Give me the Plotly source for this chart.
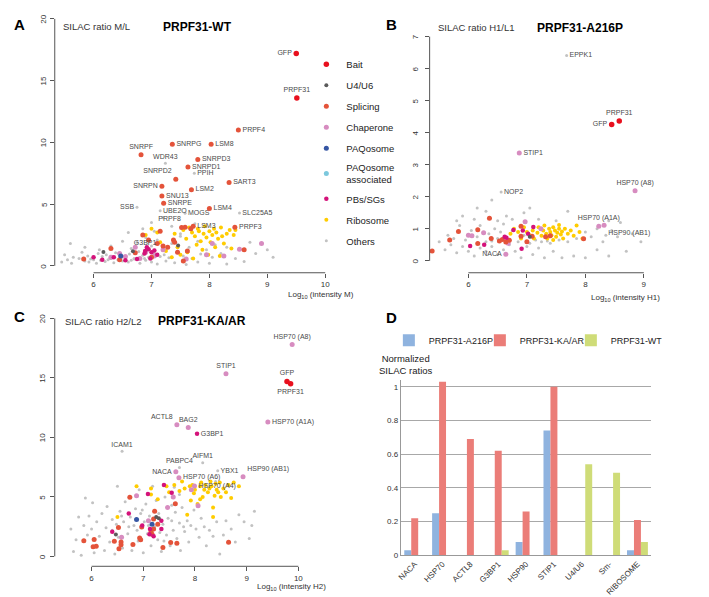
import plotly.graph_objects as go

W, H = 709, 597
FONT = "Liberation Sans, Arial, Helvetica, sans-serif"

CATS = ["Bait", "U4/U6", "Splicing", "Chaperone", "PAQosome",
        "PAQosome associated", "PBs/SGs", "Ribosome", "Others"]
LEGEND_NAMES = {"PAQosome associated": "PAQosome<br>associated"}
COLORS = {"Bait": "#e8101e", "U4/U6": "#5a5a5a", "Splicing": "#e4533a",
          "Chaperone": "#d78cc0", "PAQosome": "#3656a3",
          "PAQosome associated": "#7cc8dd", "PBs/SGs": "#d4127a",
          "Ribosome": "#ffcc00", "Others": "#c2c2c2"}
SIZES = {"Bait": 5.5, "U4/U6": 4, "Splicing": 5, "Chaperone": 5, "PAQosome": 5,
         "PAQosome associated": 5, "PBs/SGs": 4.5, "Ribosome": 4, "Others": 3}

# ---------------- Panel A (PRPF31-WT, SILAC M/L) ----------------
A_named = [
    ("GFP", "Bait", 9.50, 17.2), ("PRPF31", "Bait", 9.51, 13.6),
    ("PRPF4", "Splicing", 8.50, 11.0), ("SNRPG", "Splicing", 7.36, 9.85),
    ("LSM8", "Splicing", 8.03, 9.85), ("SNRPF", "Splicing", 6.82, 9.0),
    ("WDR43", "Others", 7.24, 8.3), ("SNRPD3", "Splicing", 7.80, 8.62),
    ("SNRPD1", "Splicing", 7.63, 8.0), ("PPIH", "Others", 7.74, 7.5),
    ("SNRPD2", "Splicing", 7.42, 7.02), ("SART3", "Splicing", 8.34, 6.75),
    ("SNRPN", "Splicing", 7.18, 6.45), ("LSM2", "Splicing", 7.69, 6.17),
    ("SNU13", "Splicing", 7.18, 5.65), ("SNRPE", "Splicing", 7.21, 5.06),
    ("SSB", "Others", 6.75, 4.75), ("LSM4", "Splicing", 8.00, 4.64),
    ("UBE2O", "Others", 7.15, 4.46), ("MOGS", "Others", 7.58, 4.25),
    ("SLC25A5", "Others", 8.52, 4.27), ("PRPF8", "Splicing", 7.58, 3.13),
    ("LSM3", "Splicing", 7.72, 3.2), ("PRPF3", "Splicing", 8.44, 3.13),
    ("G3BP1", "PBs/SGs", 6.89, 1.2),
]
A_others = [
    (5.45, 0.3), (5.55, 0.5), (5.62, 0.2), (5.75, 0.6), (5.85, 0.4), (5.92, 0.3), (6.0, 0.5),
    (6.05, 0.2), (6.12, 0.45), (6.2, 0.35), (6.28, 0.6), (6.35, 0.25), (6.42, 0.5), (6.5, 0.4),
    (6.6, 0.3), (6.7, 0.55), (6.8, 0.2), (6.9, 0.45), (7.0, 0.3), (7.1, 0.15), (7.25, 0.4),
    (7.4, 0.25), (7.6, 0.1), (7.8, 0.3), (8.0, 0.2), (8.3, 0.15), (8.6, 0.35),
    (5.5, 0.9), (5.65, 0.7), (5.8, 1.1), (5.9, 0.8), (6.0, 0.65), (6.08, 1.0), (6.15, 0.75),
    (6.22, 0.9), (6.3, 0.6), (6.38, 1.05), (6.45, 0.8), (6.55, 0.7), (6.62, 0.95), (6.7, 0.6),
    (6.78, 1.15), (6.85, 0.85), (6.95, 0.7), (7.05, 1.0), (7.15, 0.75), (7.22, 0.9), (7.3, 0.65),
    (7.45, 1.1), (7.55, 0.8), (7.7, 0.6), (7.85, 0.95), (8.05, 0.7), (8.2, 1.0), (8.45, 0.6),
    (8.8, 1.0), (9.1, 0.7), (5.95, 0.55), (6.25, 0.5), (6.48, 0.65), (6.65, 0.45), (6.88, 0.6),
    (5.6, 1.8), (5.85, 1.5), (6.1, 1.3), (6.3, 1.6), (6.5, 2.0), (6.65, 1.4), (6.75, 1.9),
    (6.9, 2.3), (7.0, 1.6), (7.1, 2.1), (7.2, 1.4), (7.35, 1.8), (7.5, 2.4), (7.65, 1.5),
    (7.8, 2.0), (7.95, 1.3), (8.1, 1.7), (8.3, 1.5), (8.7, 1.9), (9.0, 1.3),
    (6.6, 2.7), (6.85, 3.0), (7.0, 3.5), (7.05, 2.8), (7.2, 3.9), (7.35, 3.2), (7.5, 2.6), (7.75, 3.4),
]
A_ribosome = [
    (7.25, 1.2), (7.35, 0.7), (7.4, 2.6), (7.45, 1.5), (7.5, 0.9), (7.55, 2.9), (7.6, 2.2),
    (7.62, 1.1), (7.65, 3.1), (7.7, 2.7), (7.72, 0.6), (7.75, 2.4), (7.78, 1.7), (7.8, 3.0),
    (7.82, 2.8), (7.85, 2.0), (7.88, 1.3), (7.9, 2.6), (7.92, 3.2), (7.95, 2.3), (7.98, 0.9),
    (8.0, 2.8), (8.02, 1.9), (8.05, 2.5), (8.08, 3.0), (8.1, 1.5), (8.12, 2.7), (8.15, 2.2),
    (8.18, 0.8), (8.2, 3.1), (8.22, 2.4), (8.25, 1.8), (8.3, 2.6), (8.35, 2.9), (8.38, 1.4),
    (8.42, 2.5), (8.45, 2.9), (7.1, 2.7), (7.15, 1.9), (6.9, 2.5), (7.0, 3.0),
]
A_splicing = [
    (5.83, 0.55), (6.3, 1.4), (6.45, 0.5), (6.72, 1.05), (6.85, 2.5), (6.95, 2.1), (7.0, 0.7),
    (7.1, 1.8), (7.15, 2.8), (7.2, 1.6), (7.28, 1.5), (7.38, 2.1), (7.4, 1.9), (7.45, 1.1),
    (7.55, 0.4), (7.62, 1.2), (8.6, 1.3), (7.68, 3.0), (7.52, 3.1),
]
A_chaperone = [
    (6.3, 0.7), (6.45, 1.0), (6.55, 0.75), (6.72, 1.5), (6.8, 0.6), (6.9, 1.1), (7.05, 0.8),
    (7.2, 1.3), (7.6, 0.55), (7.95, 0.9), (8.05, 1.8), (8.25, 0.8), (8.9, 1.8), (8.52, 1.35),
]
A_pbs = [
    (6.0, 0.7), (6.15, 0.5), (6.35, 0.7), (6.55, 0.45), (6.75, 0.55), (6.88, 1.0), (6.95, 1.35),
    (7.0, 1.1), (6.98, 0.6), (7.05, 1.25), (6.92, 1.5), (7.1, 0.9),
]
A_paq = [(6.47, 0.79)]
A_u4u6 = [(6.17, 1.11), (6.68, 1.19), (7.46, 1.64)]
A_cloud = {"Others": A_others, "Ribosome": A_ribosome, "Splicing": A_splicing,
           "Chaperone": A_chaperone, "PBs/SGs": A_pbs, "PAQosome": A_paq, "U4/U6": A_u4u6}
A_pos = {"GFP": "middle left", "PRPF31": "top center", "SNRPF": "top center",
         "WDR43": "top center", "SNRPD2": "top left", "SNRPN": "middle left",
         "SSB": "middle left", "PRPF8": "top left", "G3BP1": "top center"}

# ---------------- Panel B (PRPF31-A216P, SILAC H1/L1) ----------------
B_named = [
    ("EPPK1", "Others", 7.68, 6.41), ("PRPF31", "Bait", 8.58, 4.37), ("GFP", "Bait", 8.45, 4.26),
    ("STIP1", "Chaperone", 6.87, 3.37), ("NOP2", "Others", 6.56, 2.15),
    ("HSP70 (A8)", "Chaperone", 8.85, 2.19), ("HSP70 (A1A)", "Chaperone", 8.23, 1.08),
    ("HSP90 (AB1)", "Chaperone", 8.32, 1.11), ("NACA", "Chaperone", 6.64, 0.21),
]
B_others = [
    (5.5, 0.6), (5.6, 0.35), (5.7, 0.5), (5.8, 0.25), (5.9, 0.45), (6.0, 0.3), (6.1, 0.15),
    (6.2, 0.4), (6.3, 0.3), (6.4, 0.45), (6.5, 0.2), (6.6, 0.35), (6.7, 0.5), (6.8, 0.3),
    (6.9, 0.1), (7.0, 0.45), (7.1, 0.2), (7.2, 0.4), (7.3, 0.1), (7.45, 0.3), (7.6, 0.1),
    (7.8, 0.15), (8.0, 0.1), (8.2, 0.35), (8.3, 0.6), (8.4, 0.15), (8.7, 0.3),
    (5.65, 0.8), (5.75, 0.7), (5.85, 1.1), (5.95, 0.65), (6.05, 0.95), (6.15, 0.75), (6.2, 1.1),
    (6.3, 0.6), (6.35, 0.85), (6.45, 1.0), (6.5, 0.7), (6.55, 0.9), (6.6, 1.15), (6.7, 0.65),
    (6.75, 0.95), (6.85, 0.6), (6.95, 0.8), (7.05, 0.55), (7.15, 0.65), (7.25, 0.6), (7.4, 0.55),
    (7.55, 0.65), (7.7, 0.6), (7.85, 0.7), (8.0, 0.9), (8.1, 0.75), (8.2, 1.0), (8.45, 0.95),
    (8.55, 0.75), (8.8, 0.85), (8.95, 0.6), (8.35, 0.8), (6.4, 0.62), (6.68, 0.55), (7.35, 0.62),
    (5.8, 1.25), (5.9, 1.4), (6.1, 1.3), (6.15, 1.65), (6.3, 1.55), (6.4, 1.9), (6.5, 1.25),
    (6.65, 1.4), (6.75, 1.3), (6.95, 1.5), (7.05, 1.65), (7.2, 1.3), (7.5, 1.25), (7.7, 1.55),
    (8.4, 1.25), (8.6, 1.2),
]
B_ribosome = [
    (6.72, 0.85), (6.78, 1.0), (6.85, 0.9), (6.9, 0.7), (6.95, 1.05), (7.0, 0.9), (7.05, 0.8),
    (7.1, 0.95), (7.12, 0.7), (7.18, 0.88), (7.2, 1.05), (7.25, 0.78), (7.28, 0.95), (7.3, 1.1),
    (7.33, 0.85), (7.35, 0.7), (7.38, 1.0), (7.4, 0.9), (7.42, 0.8), (7.45, 1.05), (7.48, 0.95),
    (7.5, 0.75), (7.52, 0.88), (7.55, 1.0), (7.58, 0.82), (7.6, 0.92), (7.62, 0.7), (7.65, 1.0),
    (7.7, 0.85), (7.75, 0.95), (7.8, 0.78), (7.85, 1.1), (7.9, 0.9), (7.95, 0.7), (7.55, 1.12),
    (7.45, 0.65),
]
B_splicing = [
    (5.38, 0.31), (5.68, 0.65), (5.83, 0.92), (6.16, 0.97), (6.36, 1.33), (6.39, 0.70),
    (6.16, 0.54), (6.53, 0.62), (6.58, 0.67), (6.64, 0.59), (6.7, 0.64), (6.9, 1.08),
    (6.9, 0.77), (7.09, 0.77), (7.0, 0.6), (7.32, 0.75), (7.4, 0.78), (7.97, 0.69),
]
B_chaperone = [(6.0, 0.80), (6.06, 0.78), (6.26, 0.88), (6.97, 1.22), (7.24, 1.0), (6.68, 0.55)]
B_pbs = [(6.03, 0.46), (6.27, 0.50), (6.62, 0.75), (6.65, 0.72), (6.77, 0.96), (6.91, 0.38),
         (7.02, 0.85), (7.11, 1.06), (6.93, 0.95)]
B_u4u6 = [(7.05, 0.75)]
B_cloud = {"Others": B_others, "Ribosome": B_ribosome, "Splicing": B_splicing,
           "Chaperone": B_chaperone, "PBs/SGs": B_pbs, "U4/U6": B_u4u6}
B_pos = {"PRPF31": "top center", "GFP": "middle left", "HSP70 (A8)": "top center",
         "HSP70 (A1A)": "top center", "HSP90 (AB1)": "bottom right", "NACA": "middle left"}

# ---------------- Panel C (PRPF31-KA/AR, SILAC H2/L2) ----------------
C_named = [
    ("HSP70 (A8)", "Chaperone", 9.88, 17.8), ("STIP1", "Chaperone", 8.60, 15.36),
    ("GFP", "Bait", 9.78, 14.7), ("PRPF31", "Bait", 9.85, 14.5),
    ("HSP70 (A1A)", "Chaperone", 9.41, 11.3), ("ACTL8", "Chaperone", 7.65, 11.06),
    ("BAG2", "Chaperone", 7.87, 10.83), ("G3BP1", "PBs/SGs", 8.04, 10.3),
    ("ICAM1", "Others", 6.59, 8.83), ("AIFM1", "Others", 8.15, 7.86),
    ("PABPC4", "Others", 7.70, 7.47), ("NACA", "Chaperone", 7.63, 7.11),
    ("YBX1", "Others", 8.44, 7.19), ("HSP90 (AB1)", "Chaperone", 8.93, 6.69),
    ("HSP70 (A6)", "Chaperone", 7.69, 6.61), ("HSP70 (A4)", "Chaperone", 7.99, 5.92),
]
C_others = [
    (5.6, 2.3), (5.65, 0.4), (5.7, 1.4), (5.75, 3.3), (5.8, 0.1), (5.85, 2.6), (5.88, 4.9),
    (5.92, 1.8), (5.95, 3.4), (6.0, 2.3), (6.02, 4.5), (6.05, 0.3), (6.1, 2.9), (6.15, 1.7),
    (6.2, 3.6), (6.25, 0.5), (6.28, 2.4), (6.3, 4.2), (6.35, 1.2), (6.4, 3.1), (6.45, 0.2),
    (6.48, 2.7), (6.5, 5.9), (6.52, 1.6), (6.55, 3.8), (6.6, 0.7), (6.62, 2.9), (6.65, 4.6),
    (6.7, 1.9), (6.75, 3.3), (6.78, 0.5), (6.82, 2.6), (6.85, 4.0), (6.9, 1.3), (6.92, 5.6),
    (6.95, 3.6), (7.0, 0.3), (7.02, 2.9), (7.05, 4.4), (7.08, 1.9), (7.12, 3.4), (7.15, 0.9),
    (7.18, 5.9), (7.22, 2.5), (7.25, 4.7), (7.28, 1.4), (7.3, 3.6), (7.35, 0.4), (7.38, 2.7),
    (7.42, 5.0), (7.45, 1.8), (7.48, 3.2), (7.52, 0.9), (7.55, 4.3), (7.58, 2.2), (7.62, 3.7),
    (7.65, 1.5), (7.7, 2.8), (7.72, 0.5), (7.75, 4.1), (7.8, 2.1), (7.85, 3.0), (7.88, 1.2),
    (7.92, 2.6), (7.98, 3.9), (8.02, 2.3), (8.08, 1.6), (8.12, 3.2), (8.18, 2.5), (8.22, 0.9),
    (8.28, 2.2), (8.35, 1.7), (8.42, 2.9), (8.48, 0.2), (8.55, 1.8), (8.6, 3.0), (8.7, 2.3),
    (8.78, 1.2), (8.85, 3.5), (8.95, 2.9), (9.1, 2.6), (9.15, 3.8), (9.05, 1.5), (8.4, 6.3),
    (7.6, 5.8), (7.7, 5.2), (6.4, 2.2), (6.58, 3.4), (6.88, 2.2), (7.1, 2.6), (7.32, 2.0),
    (7.55, 3.0), (7.78, 2.5), (6.98, 3.9), (6.72, 2.5), (7.4, 1.3),
]
C_ribosome = [
    (6.5, 3.3), (6.87, 5.9), (7.15, 5.7), (7.15, 5.2), (7.28, 4.8), (7.45, 5.9), (7.5, 5.4),
    (7.6, 6.0), (7.75, 6.3), (7.8, 5.7), (7.85, 3.5), (7.9, 5.9), (7.92, 4.7), (7.95, 6.0),
    (7.98, 5.3), (8.0, 5.6), (8.05, 4.4), (8.1, 5.9), (8.12, 6.2), (8.15, 5.0), (8.18, 5.6),
    (8.2, 6.0), (8.25, 5.4), (8.28, 5.7), (8.3, 6.3), (8.32, 5.9), (8.35, 4.1), (8.38, 5.1),
    (8.4, 6.1), (8.42, 5.6), (8.45, 5.4), (8.48, 6.2), (8.5, 5.0), (8.55, 5.7), (8.6, 5.4),
    (8.65, 6.0), (8.7, 4.9), (8.75, 6.2), (8.85, 5.9), (8.35, 3.3), (7.7, 5.5), (8.1, 4.8),
]
C_splicing = [
    (5.85, 1.31), (6.05, 1.42), (6.03, 0.8), (6.09, 0.86), (6.44, 1.28), (6.57, 1.2),
    (6.57, 0.97), (6.53, 0.64), (6.8, 1.0), (6.95, 1.4), (6.97, 2.47), (6.93, 1.55),
    (6.74, 4.97), (6.52, 2.42), (7.22, 3.8), (7.2, 3.15), (7.28, 2.7), (7.2, 2.3),
    (7.15, 2.1), (7.38, 0.75), (7.53, 1.17), (7.65, 1.1), (7.17, 1.85), (7.62, 4.42),
    (8.65, 1.19),
]
C_chaperone = [(6.87, 5.1), (6.58, 1.6), (7.47, 4.1), (7.58, 5.0), (7.1, 3.0), (8.06, 4.25),
               (7.93, 5.6)]
C_pbs = [(6.72, 3.6), (6.4, 2.06), (7.09, 5.25), (7.4, 6.0), (7.55, 5.35), (7.13, 2.3),
         (7.12, 1.85), (7.35, 2.3), (7.35, 3.0), (6.98, 2.6), (7.2, 1.7)]
C_paq = [(6.87, 3.1), (7.17, 2.7)]
C_u4u6 = [(6.47, 1.83), (7.25, 3.3), (7.3, 3.2)]
C_cloud = {"Others": C_others, "Ribosome": C_ribosome, "Splicing": C_splicing,
           "Chaperone": C_chaperone, "PBs/SGs": C_pbs, "PAQosome": C_paq, "U4/U6": C_u4u6}
C_pos = {"HSP70 (A8)": "top center", "STIP1": "top center", "GFP": "top center",
         "PRPF31": "bottom center", "ACTL8": "top left", "BAG2": "top center",
         "ICAM1": "top center", "AIFM1": "top center", "PABPC4": "top center",
         "NACA": "middle left", "HSP90 (AB1)": "top right"}

# ---------------- Panel D (bars) ----------------
D_categories = ["NACA", "HSP70", "ACTL8", "G3BP1", "HSP90", "STIP1", "U4/U6", "Sm-", "RIBOSOME"]
D_A216P = [0.03, 0.25, 0.0, 0.0, 0.08, 0.74, 0.0, 0.0, 0.03]
D_KAAR = [0.22, 1.03, 0.69, 0.62, 0.26, 1.00, 0.0, 0.0, 0.21]
D_WT = [0.0, 0.0, 0.0, 0.03, 0.0, 0.0, 0.54, 0.49, 0.08]
D_series = [("PRPF31-A216P", D_A216P, "#8fb3df"),
            ("PRPF31-KA/AR", D_KAAR, "#eb7d78"),
            ("PRPF31-WT", D_WT, "#cfdc78")]


# ---------------- layout helpers (pixel -> paper) ----------------
def px(x):
    return x / W


def py(y):
    return 1 - y / H


fig = go.Figure()


def add_scatter_panel(named, cloud, pos, xa, ya, legend, cats):
    for cat in cats:
        xs, ys, texts, tpos = [], [], [], []
        for (x, y) in cloud.get(cat, []):
            xs.append(x); ys.append(y); texts.append(""); tpos.append("middle right")
        for (nm, c, x, y) in named:
            if c == cat:
                xs.append(x); ys.append(y); texts.append(nm)
                tpos.append(pos.get(nm, "middle right"))
        if not xs:
            if not legend:
                continue
            xs, ys, texts, tpos = [None], [None], [""], ["middle right"]
        fig.add_trace(go.Scatter(
            x=xs, y=ys, text=texts, textposition=tpos,
            mode="markers+text", name=LEGEND_NAMES.get(cat, cat),
            legendgroup=cat, showlegend=legend, legendrank=100 + CATS.index(cat),
            marker=dict(color=COLORS[cat], size=SIZES[cat], line=dict(width=0)),
            textfont=dict(family=FONT, size=7, color="#4a4a4a"),
            xaxis=xa, yaxis=ya, cliponaxis=False, hoverinfo="skip"))


# draw "Others" first so it sits behind the coloured classes
DRAW_ORDER = ["Others", "Ribosome", "Chaperone", "Splicing", "PBs/SGs", "U4/U6",
              "PAQosome", "PAQosome associated", "Bait"]
add_scatter_panel(A_named, A_cloud, A_pos, "x", "y", True, DRAW_ORDER)
add_scatter_panel(B_named, B_cloud, B_pos, "x2", "y2", False, DRAW_ORDER)
add_scatter_panel(C_named, C_cloud, C_pos, "x3", "y3", False, DRAW_ORDER)

for name, vals, col in D_series:
    fig.add_trace(go.Bar(x=D_categories, y=vals, name=name,
                         marker=dict(color=col, line=dict(width=0)),
                         xaxis="x4", yaxis="y4", legend="legend2", hoverinfo="skip"))

TICKFONT = dict(family=FONT, size=8, color="#333")
AXCOL = "#555"


def sc_axes(xdom, ydom, xr, yr, xt, yt):
    xax = dict(domain=[px(xdom[0]), px(xdom[1])], range=xr, tickvals=xt, ticks="outside",
               ticklen=4, tickcolor=AXCOL, showline=False, showgrid=False, zeroline=False,
               tickfont=TICKFONT, fixedrange=True)
    yax = dict(domain=[py(ydom[1]), py(ydom[0])], range=yr, tickvals=yt, ticks="outside",
               ticklen=4, tickcolor=AXCOL, showline=False, showgrid=False, zeroline=False,
               showticklabels=False, fixedrange=True)
    return xax, yax


A_xticks, A_yticks = [6, 7, 8, 9, 10], [0, 5, 10, 15, 20]
B_xticks, B_yticks = [6, 7, 8, 9], [0, 1, 2, 3, 4, 5, 6, 7]
C_xticks, C_yticks = [6, 7, 8, 9, 10], [0, 5, 10, 15, 20]

xa1, ya1 = sc_axes((43, 320), (8, 267), [5.33, 10.086], [-0.562, 20.24], A_xticks, A_yticks)
xa2, ya2 = sc_axes((420, 648), (10, 267), [5.337, 9.214], [-0.372, 7.585], B_xticks, B_yticks)
xa3, ya3 = sc_axes((43, 300), (305, 563), [5.288, 10.231], [-0.833, 20.67], C_xticks, C_yticks)
xa1["anchor"] = "y"; ya1["anchor"] = "x"
xa2["anchor"] = "y2"; ya2["anchor"] = "x2"
xa3["anchor"] = "y3"; ya3["anchor"] = "x3"

shapes = []
for xr_, yr_, xt, yt in [("x", "y", A_xticks, A_yticks), ("x2", "y2", B_xticks, B_yticks),
                          ("x3", "y3", C_xticks, C_yticks)]:
    shapes.append(dict(type="line", xref=xr_, yref=yr_ + " domain", x0=xt[0], x1=xt[-1], y0=0, y1=0,
                       line=dict(color=AXCOL, width=1)))
    shapes.append(dict(type="line", xref=xr_ + " domain", yref=yr_, x0=0, x1=0, y0=yt[0], y1=yt[-1],
                       line=dict(color=AXCOL, width=1)))

xa4 = dict(domain=[px(391), px(643)], anchor="y4", type="category", tickangle=-45,
           tickfont=dict(family=FONT, size=8, color="#333"), showline=True, linecolor="#999",
           ticks="", showgrid=False, fixedrange=True)
ya4 = dict(domain=[py(552), py(375)], anchor="x4", range=[0, 1.041],
           tickvals=[0, 0.2, 0.4, 0.6, 0.8, 1], ticktext=["0", "0.2", "0.4", "0.6", "0.8", "1"],
           showgrid=True, gridcolor="#a8a8a8", gridwidth=1, showline=True, linecolor="#999",
           zeroline=False, ticks="", tickfont=dict(family=FONT, size=8, color="#333"),
           fixedrange=True)

ann = []


def add_text(x, y, text, size, xanchor="left", bold=False, color="#333"):
    ann.append(dict(x=px(x), y=py(y), xref="paper", yref="paper",
                    text=(f"<b>{text}</b>" if bold else text),
                    showarrow=False, xanchor=xanchor, yanchor="middle",
                    font=dict(family=FONT, size=size, color=color)))


# rotated y tick labels (R style), placed next to the y axes
for ticks, yref, xpix in [(A_yticks, "y", 32), (B_yticks, "y2", 406), (C_yticks, "y3", 31)]:
    for t in ticks:
        ann.append(dict(x=px(xpix), y=t, xref="paper", yref=yref, text=str(t), textangle=-90,
                        showarrow=False, xanchor="center", yanchor="middle",
                        font=TICKFONT))

add_text(0, 17, "A", 15, bold=True, color="#000")
add_text(374, 17, "B", 15, bold=True, color="#000")
add_text(0, 311, "C", 15, bold=True, color="#000")
add_text(374, 312, "D", 15, bold=True, color="#000")
add_text(49, 19, "SILAC ratio M/L", 9.5)
add_text(150, 19, "PRPF31-WT", 12, bold=True, color="#000")
add_text(426, 20, "SILAC ratio H1/L1", 9.5)
add_text(526, 20, "PRPF31-A216P", 12, bold=True, color="#000")
add_text(51, 316, "SILAC ratio H2/L2", 9.5)
add_text(145, 316, "PRPF31-KA/AR", 12, bold=True, color="#000")
add_text(346, 289, "Log<sub>10</sub> (intensity M)", 8, xanchor="right")
add_text(654, 292, "Log<sub>10</sub> (intensity H1)", 8, xanchor="right")
add_text(318, 584, "Log<sub>10</sub> (intensity H2)", 8, xanchor="right")
ann.append(dict(x=px(396), y=py(360), xref="paper", yref="paper", text="Normalized<br>SILAC ratios",
                showarrow=False, xanchor="center", yanchor="middle",
                font=dict(family=FONT, size=9.5, color="#222")))

fig.update_layout(
    width=W, height=H, margin=dict(l=0, r=0, t=0, b=0),
    paper_bgcolor="white", plot_bgcolor="white",
    font=dict(family=FONT),
    xaxis=xa1, yaxis=ya1, xaxis2=xa2, yaxis2=ya2, xaxis3=xa3, yaxis3=ya3,
    xaxis4=xa4, yaxis4=ya4,
    barmode="group", bargap=0.25, bargroupgap=0,
    shapes=shapes, annotations=ann,
    legend=dict(x=px(296), y=py(42), xanchor="left", yanchor="top", bgcolor="rgba(0,0,0,0)",
                font=dict(family=FONT, size=9.5, color="#222"), tracegroupgap=2,
                itemwidth=30, traceorder="grouped"),
    legend2=dict(x=px(379), y=py(335), xanchor="left", yanchor="middle", orientation="h",
                 bgcolor="rgba(0,0,0,0)", font=dict(family=FONT, size=9, color="#222"),
                 itemwidth=30, entrywidth=46, entrywidthmode="pixels"),
    showlegend=True,
)

fig.write_html("out.html", config={"displayModeBar": False})
